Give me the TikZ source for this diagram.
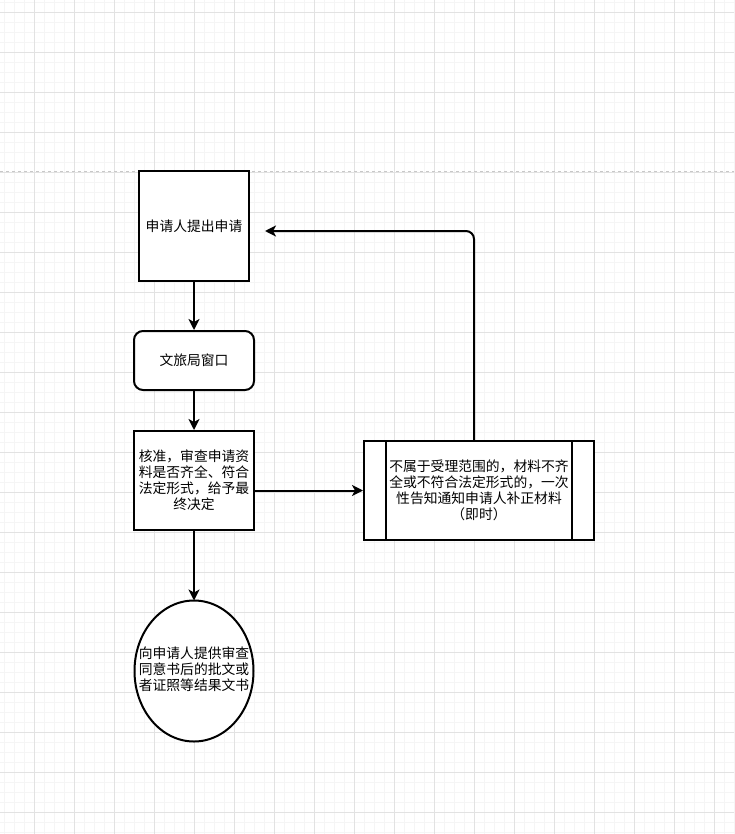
\documentclass[tikz,border=0pt]{standalone}
\usepackage{fontspec}
\setmainfont{Noto Sans CJK SC}
\usetikzlibrary{arrows.meta,shapes.geometric,calc}
\definecolor{minorgrid}{HTML}{F5F5F5}
\definecolor{majorgrid}{HTML}{E2E2E2}
\definecolor{pagebreak}{HTML}{C8C8C8}
\begin{document}
\begin{tikzpicture}[x=1pt,y=-1pt,
  box/.style={draw=black,line width=2pt,fill=white,align=center,inner sep=0pt,
    font=\fontsize{13.8pt}{16pt}\selectfont},
  txt/.style={align=center,inner sep=0pt,font=\fontsize{13.8pt}{16pt}\selectfont},
  arr/.style={line width=2pt,-{Stealth[length=11pt,width=11pt,inset=3pt]}},
  minorline/.style={draw=minorgrid,line width=0.6pt},
  majorline/.style={draw=majorgrid,line width=0.8pt},
]
\useasboundingbox (0,0) rectangle (734,834);
\fill[white] (0,0) rectangle (734,834);
% grid
\foreach \x in {4,14,...,734} \draw[minorline] (\x,0) -- (\x,834);
\foreach \y in {2,12,...,834} \draw[minorline] (0,\y) -- (734,\y);
\foreach \x in {34,74,...,734} \draw[majorline] (\x,0) -- (\x,834);
\foreach \y in {12,52,...,834} \draw[majorline] (0,\y) -- (734,\y);
% page break line
\draw[pagebreak,line width=0.8pt,dash pattern=on 3pt off 3pt] (0,171) -- (734,171);

% nodes
\node[box,minimum width=110pt,minimum height=110pt] (a) at (194,226) {申请人提出申请};
\node[box,rounded corners=9pt,minimum width=120pt,minimum height=59pt] (b) at (194,360.5) {文旅局窗口};
\node[box,minimum width=120pt,minimum height=99pt] (c) at (194,480.5)
  {核准，审查申请资\\料是否齐全、符合\\法定形式，给予最\\终决定};
\node[box,minimum width=230pt,minimum height=99pt] (d) at (479,490.5)
  {不属于受理范围的，材料不齐\\全或不符合法定形式的，一次\\性告知通知申请人补正材料\\（即时）};
\draw[line width=2pt] ([xshift=23pt]d.north west) -- ([xshift=23pt]d.south west);
\draw[line width=2pt] ([xshift=-23pt]d.north east) -- ([xshift=-23pt]d.south east);
\node[box,ellipse,inner sep=0pt,outer sep=0pt,minimum width=119pt,minimum height=141pt] (e) at (194,671) {};
\node[txt] (et) at ([yshift=2pt]e.center) {向申请人提供审查\\同意书后的批文或\\者证照等结果文书};

\coordinate (fb) at (265,231);

% connectors
\draw[arr] (a) -- (b);
\draw[arr] (b) -- (c);
\draw[arr] (c) -- (e);
\draw[arr] (d.west -| c.east) -- (d.west);
\draw[arr,rounded corners=8pt] ([xshift=-5pt]d.north) |- (fb);
\end{tikzpicture}
\end{document}
